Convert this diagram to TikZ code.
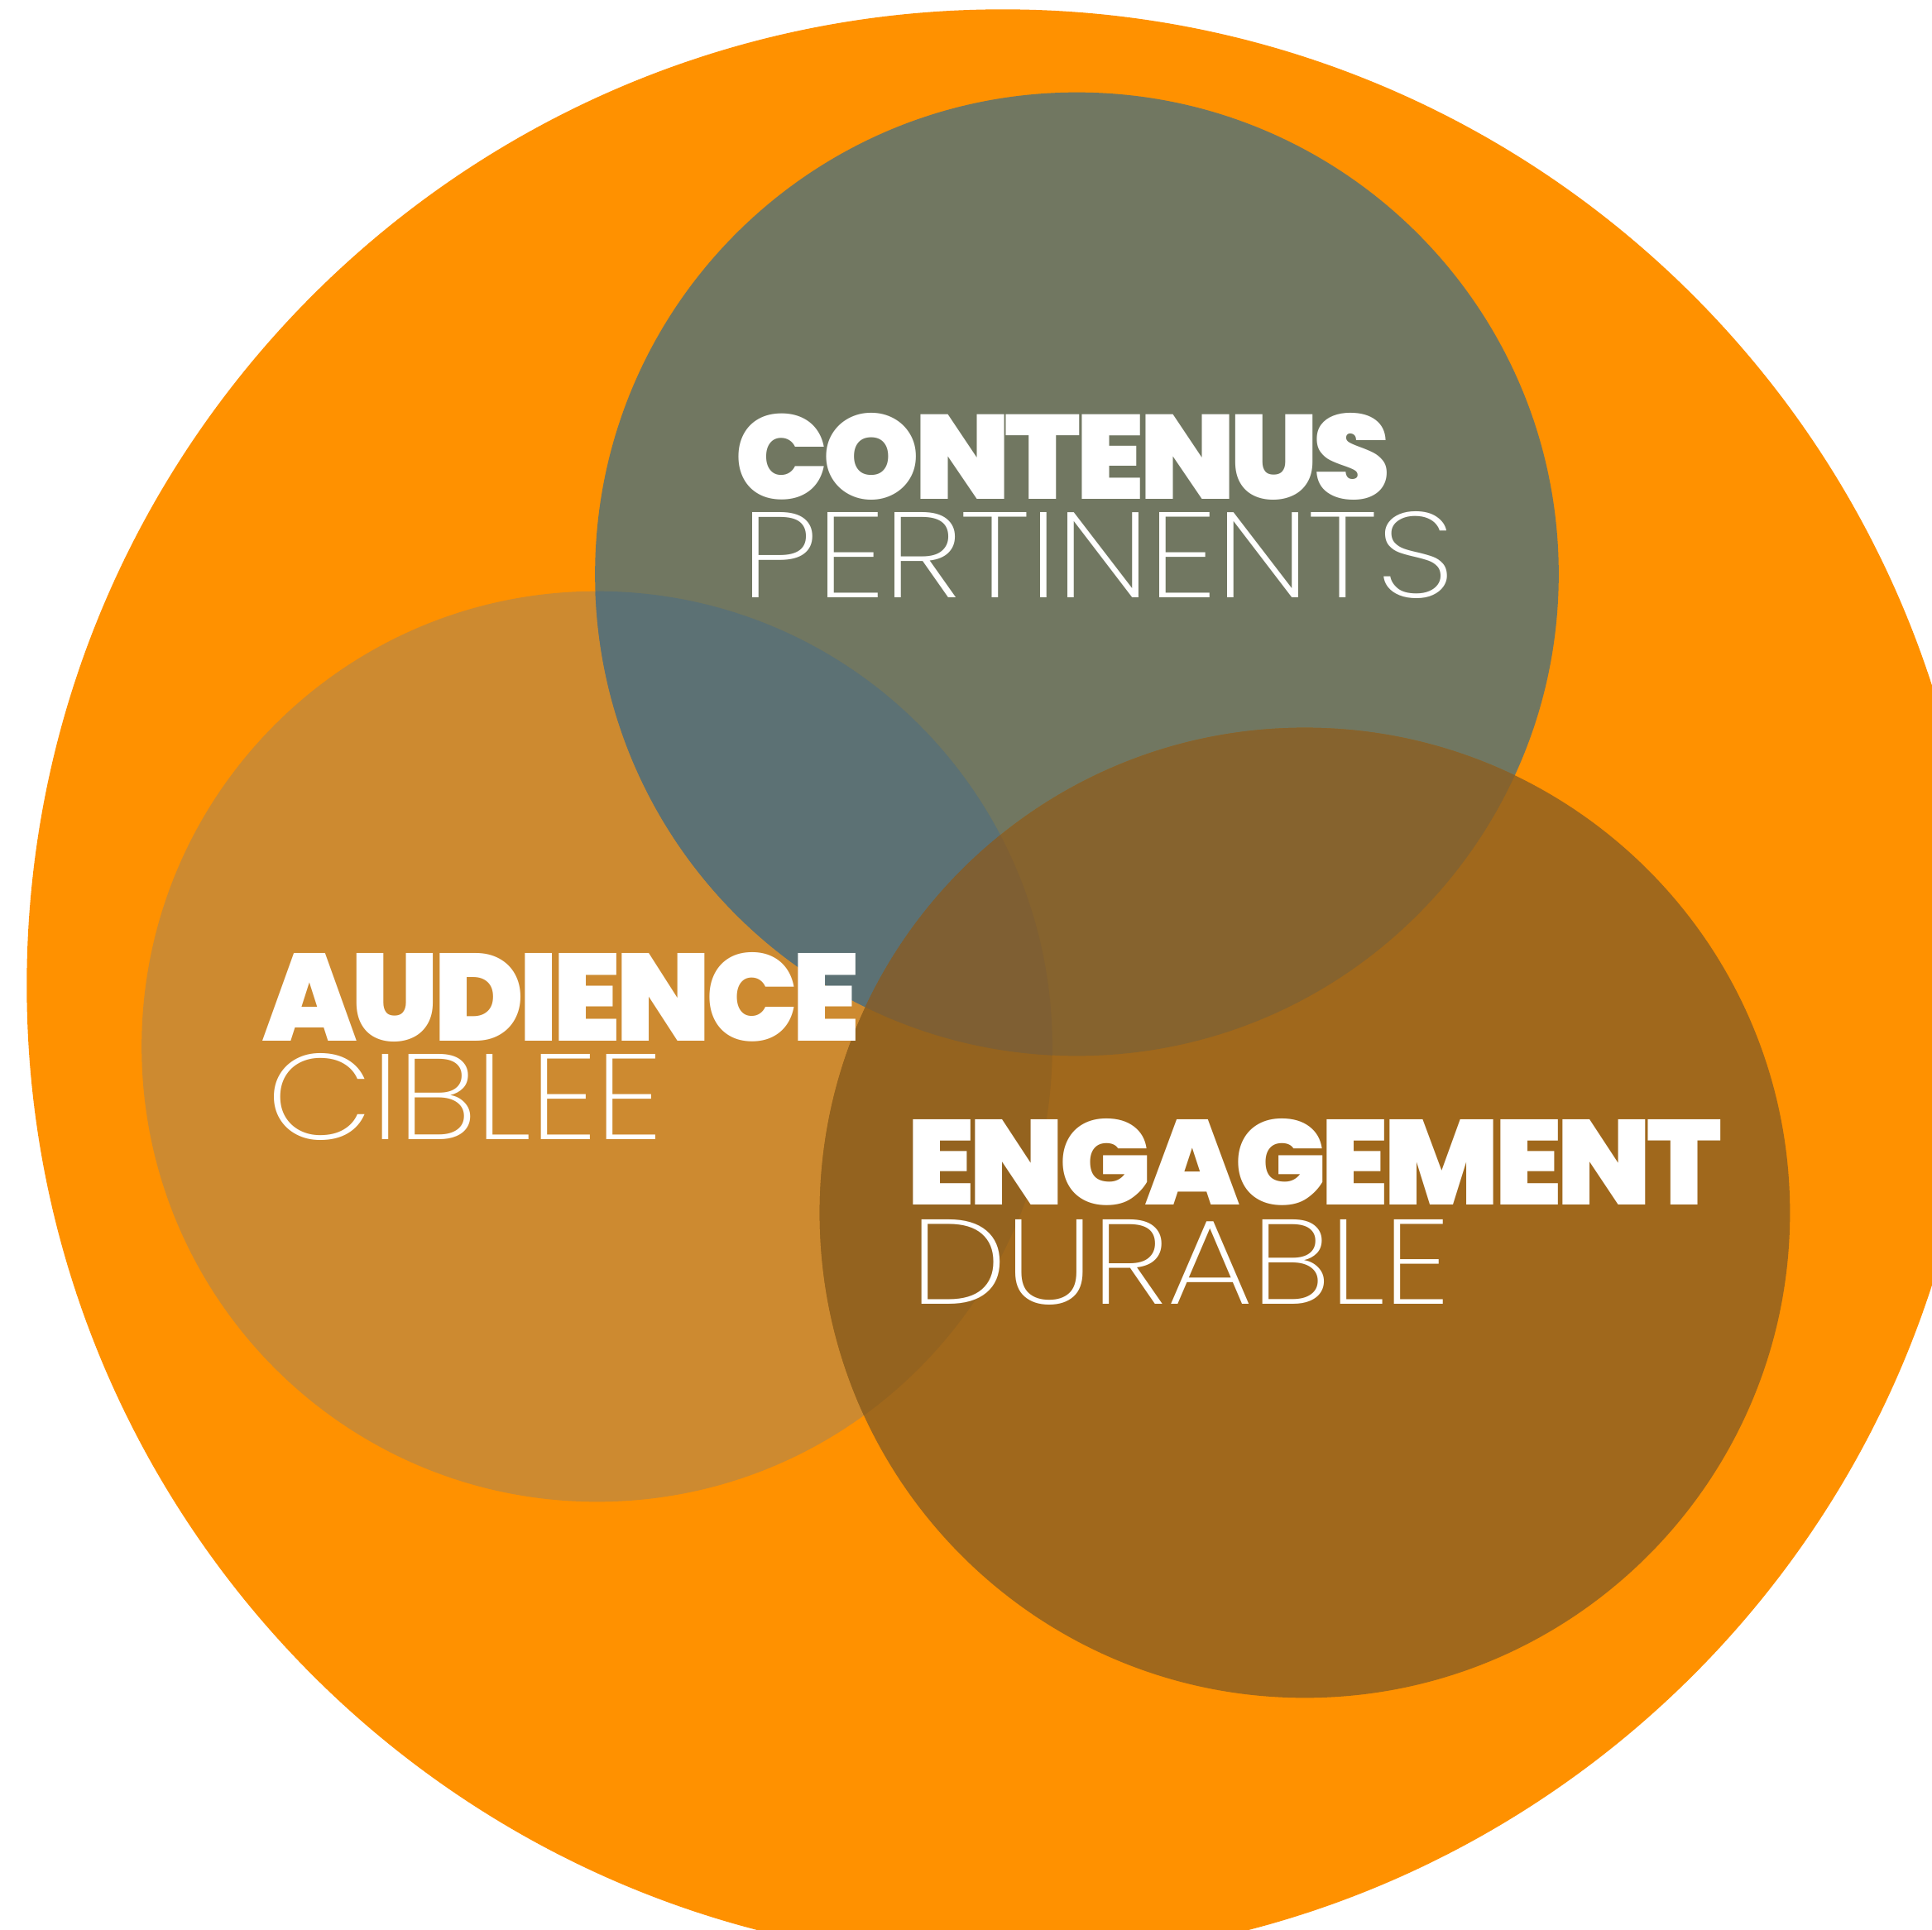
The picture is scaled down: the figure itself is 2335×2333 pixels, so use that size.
\documentclass[tikz,border=0pt]{standalone}
\usepackage{fontspec}
\usepackage{graphicx}

% Heavy and thin display faces, with fallbacks; tight tracking for the heavy face
\IfFontExistsTF{Poppins Black}{\newfontfamily\heavyfont{Poppins Black}[LetterSpace=-4.2]}{%
  \IfFontExistsTF{Fira Sans Black}{\newfontfamily\heavyfont{Fira Sans Black}}{%
    \newfontfamily\heavyfont{DejaVu Sans Bold}}}
\IfFontExistsTF{Poppins ExtraLight}{\newfontfamily\thinfont{Poppins ExtraLight}[LetterSpace=-1.5]}{%
  \IfFontExistsTF{Poppins Light}{\newfontfamily\thinfont{Poppins Light}}{%
    \IfFontExistsTF{Fira Sans ExtraLight}{\newfontfamily\thinfont{Fira Sans ExtraLight}}{%
      \newfontfamily\thinfont{DejaVu Sans ExtraLight}}}}

\definecolor{bgorange}{HTML}{FF9100}
\definecolor{cT}{HTML}{717761}
\definecolor{cL}{HTML}{CD8A30}
\definecolor{cR}{HTML}{A0681C}
\definecolor{cTL}{HTML}{5C7174}
\definecolor{cLR}{HTML}{94631F}
\definecolor{cTR}{HTML}{86632E}
\definecolor{cTLR}{HTML}{7F5F33}

\tikzset{
  label/.style={anchor=base west, inner sep=0pt, outer sep=0pt, text=white},
}
% word scaled to a given width and cap height (in cm), depth dropped
\newcommand{\heavyword}[3]{\raisebox{0pt}[\height][0pt]{\resizebox{#1cm}{#2cm}{\heavyfont #3}}}
\newcommand{\thinword}[3]{\raisebox{0pt}[\height][0pt]{\resizebox{#1cm}{#2cm}{\thinfont #3}}}

\begin{document}
\begin{tikzpicture}[x=0.01cm,y=-0.01cm]
  \useasboundingbox (0,0) rectangle (2335,2333);
  \fill[white] (0,0) rectangle (2335,2333);

  % circle centres
  \coordinate (cbig) at (1212,1191);
  \coordinate (ctop) at (1301.5,694);
  \coordinate (cleft) at (721.5,1265);
  \coordinate (cright) at (1577,1466);

  % outer disc
  \fill[bgorange] (cbig) circle[radius=11.79cm];

  % single discs
  \fill[cL] (cleft) circle[radius=5.50cm];
  \fill[cT] (ctop) circle[radius=5.82cm];
  \fill[cR] (cright) circle[radius=5.86cm];

  % pairwise overlaps
  \begin{scope}
    \clip (cleft) circle[radius=5.50cm];
    \fill[cTL] (ctop) circle[radius=5.82cm];
  \end{scope}
  \begin{scope}
    \clip (cleft) circle[radius=5.50cm];
    \fill[cLR] (cright) circle[radius=5.86cm];
  \end{scope}
  \begin{scope}
    \clip (ctop) circle[radius=5.82cm];
    \fill[cTR] (cright) circle[radius=5.86cm];
  \end{scope}
  % triple overlap
  \begin{scope}
    \clip (ctop) circle[radius=5.82cm];
    \clip (cleft) circle[radius=5.50cm];
    \fill[cTLR] (cright) circle[radius=5.86cm];
  \end{scope}

  % labels
  \node[label] (contenus) at (888,603) {\heavyword{7.92}{1.04}{CONTENUS}};
  \node[label] (pertinents) at (895,722) {\thinword{8.62}{1.04}{PERTINENTS}};
  \node[label] (audience) at (317,1258) {\heavyword{7.22}{1.07}{AUDIENCE}};
  \node[label] (ciblee) at (322,1377) {\thinword{4.79}{1.04}{CIBLEE}};
  \node[label] (engagement) at (1096,1456) {\heavyword{9.84}{1.04}{ENGAGEMENT}};
  \node[label] (durable) at (1100,1576) {\thinword{6.53}{1.02}{DURABLE}};
\end{tikzpicture}
\end{document}
